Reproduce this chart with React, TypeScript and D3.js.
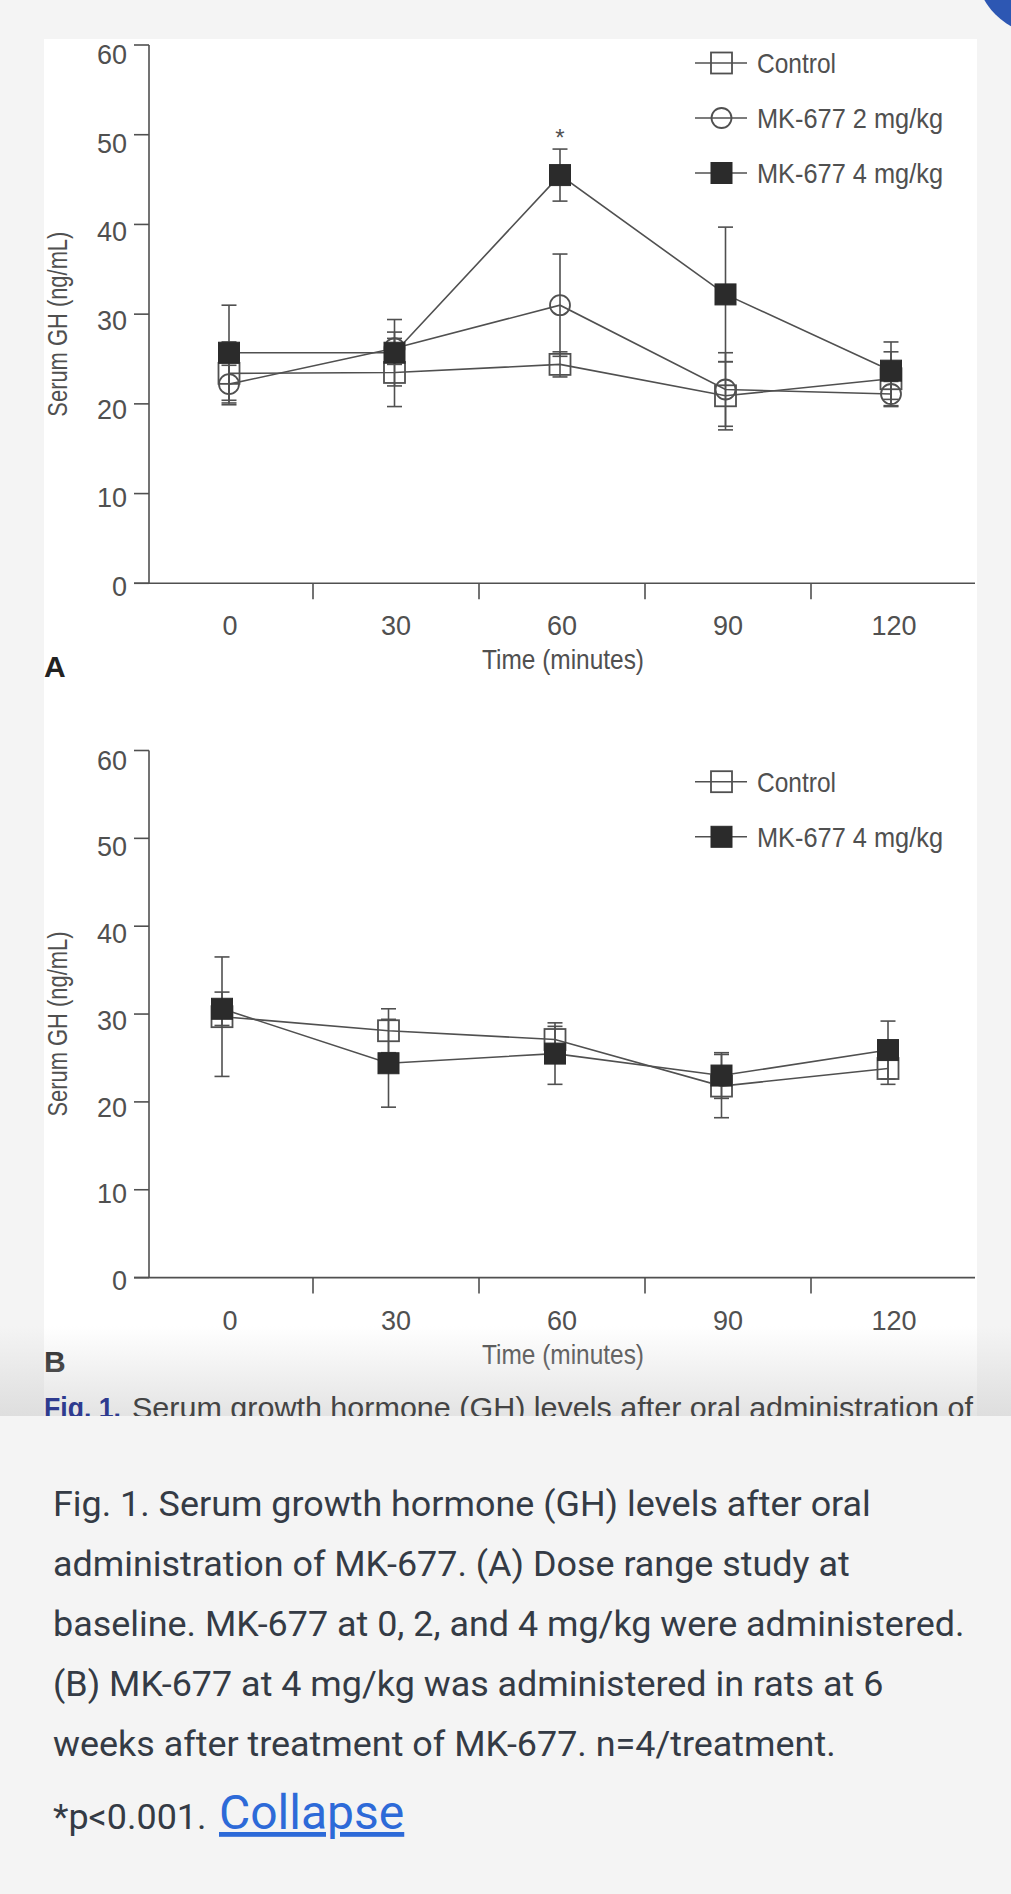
import React from "react";
import * as d3 from "d3";

// time points (minutes) and y ticks
const times = [0, 30, 60, 90, 120];
const yTicks = [0, 10, 20, 30, 40, 50, 60];

// Panel A: dose range study (mean, SEM)
const controlA = [23.4, 23.5, 24.4, 20.9, 22.8];
const controlAErr = [3.5, 3.8, 1.4, 3.8, 3.0];
const mk2A = [22.2, 26.2, 31.0, 21.6, 21.1];
const mk2AErr = [2.1, 1.8, 5.7, 4.1, 1.4];
const mk4A = [25.7, 25.7, 45.5, 32.2, 23.7];
const mk4AErr = [5.3, 3.7, 2.9, 7.5, 3.2];

// Panel B: 6 weeks after treatment
const controlB = [29.7, 28.1, 27.1, 21.8, 23.8];
const controlBErr = [6.8, 2.5, 1.5, 3.6, 1.8];
const mk4B = [30.6, 24.4, 25.5, 23.0, 25.9];
const mk4BErr = [1.9, 5.0, 3.5, 2.6, 3.3];

const captionLines = [
  "Fig. 1. Serum growth hormone (GH) levels after oral",
  "administration of MK-677. (A) Dose range study at",
  "baseline. MK-677 at 0, 2, and 4 mg/kg were administered.",
  "(B) MK-677 at 4 mg/kg was administered in rats at 6",
  "weeks after treatment of MK-677. n=4/treatment.",
];

const CHART_FONT = "'Liberation Sans', Arial, sans-serif";
const CAPTION_FONT = "Roboto, 'Noto Sans', sans-serif";
const INK = "#505050";
const DARK = "#2b2b2b";

type Kind = "open" | "circle" | "filled";
interface Series {
  label: string;
  values: number[];
  errors: number[];
  kind: Kind;
  labelWidth: number;
}

const seriesA: Series[] = [
  { label: "Control", values: controlA, errors: controlAErr, kind: "open", labelWidth: 79 },
  { label: "MK-677 2 mg/kg", values: mk2A, errors: mk2AErr, kind: "circle", labelWidth: 186 },
  { label: "MK-677 4 mg/kg", values: mk4A, errors: mk4AErr, kind: "filled", labelWidth: 186 },
];

const seriesB: Series[] = [
  { label: "Control", values: controlB, errors: controlBErr, kind: "open", labelWidth: 79 },
  { label: "MK-677 4 mg/kg", values: mk4B, errors: mk4BErr, kind: "filled", labelWidth: 186 },
];

const Marker = ({ kind, cx, cy }: { kind: Kind; cx: number; cy: number }) => {
  if (kind === "circle") {
    return <circle cx={cx} cy={cy} r={10} fill="none" stroke={INK} strokeWidth={1.8} />;
  }
  if (kind === "open") {
    return (
      <rect x={cx - 10.5} y={cy - 10.5} width={21} height={21} fill="none" stroke={INK} strokeWidth={1.8} />
    );
  }
  return <rect x={cx - 10.5} y={cy - 10.5} width={21} height={21} fill={DARK} stroke={DARK} strokeWidth={1} />;
};

interface PanelProps {
  top: number;
  zero: number;
  xRange: [number, number];
  series: Series[];
  legendRows: number[];
  letter: string;
  star?: number;
}

const Panel = ({ top, zero, xRange, series, legendRows, letter, star }: PanelProps) => {
  const y = d3.scaleLinear().domain([0, 60]).range([zero, top]);
  const x = d3.scalePoint<number>().domain(times).range(xRange);
  const band = d3.scaleBand<number>().domain(times).range([147, 977]);
  // tick labels sit a little off the band centres in the original
  const xLabel = d3.scalePoint<number>().domain(times).range([226, 890]).padding(0);
  const axisX = 149;

  const line = d3
    .line<number>()
    .x((_, i) => x(times[i]) as number)
    .y((d) => y(d));

  const yLabelMid = (zero + top) / 2;

  return (
    <g fontFamily={CHART_FONT}>
      {/* y axis */}
      <line x1={axisX} x2={axisX} y1={top} y2={zero} stroke={INK} strokeWidth={1.6} />
      {yTicks.map((t) => (
        <g key={t}>
          <line x1={134} x2={axisX} y1={y(t)} y2={y(t)} stroke={INK} strokeWidth={1.6} />
          <text
            x={127}
            y={y(t) + 12.5 + (t / 60) * 6.5}
            textAnchor="end"
            fontSize={27}
            fill={INK}
          >
            {t}
          </text>
        </g>
      ))}

      {/* x axis */}
      <line x1={134} x2={975} y1={zero} y2={zero} stroke={INK} strokeWidth={1.6} />
      {times.slice(1).map((t) => (
        <line
          key={t}
          x1={band(t)}
          x2={band(t)}
          y1={zero}
          y2={zero + 16}
          stroke={INK}
          strokeWidth={1.6}
        />
      ))}
      {times.map((t) => (
        <text
          key={t}
          x={((band(t) as number) + band.bandwidth() / 2 + (xLabel(t) as number)) / 2 + 2}
          y={zero + 52}
          textAnchor="middle"
          fontSize={27}
          fill={INK}
        >
          {t}
        </text>
      ))}
      <text
        x={563}
        y={zero + 86}
        textAnchor="middle"
        fontSize={28}
        fill={INK}
        textLength={162}
        lengthAdjust="spacingAndGlyphs"
      >
        Time (minutes)
      </text>
      <text
        transform={`translate(67, ${yLabelMid + 10}) rotate(-90)`}
        textAnchor="middle"
        fontSize={28}
        fill={INK}
        textLength={185}
        lengthAdjust="spacingAndGlyphs"
      >
        Serum GH (ng/mL)
      </text>
      <text x={44} y={zero + 94} fontSize={30} fontWeight="bold" fill="#222">
        {letter}
      </text>

      {/* series */}
      {series.map((s) => (
        <g key={s.label}>
          {s.values.map((v, i) => {
            const cx = x(times[i]) as number;
            const lo = y(v - s.errors[i]);
            const hi = y(v + s.errors[i]);
            return (
              <g key={i} stroke={INK} strokeWidth={1.6}>
                <line x1={cx} x2={cx} y1={lo} y2={hi} />
                <line x1={cx - 7.5} x2={cx + 7.5} y1={lo} y2={lo} />
                <line x1={cx - 7.5} x2={cx + 7.5} y1={hi} y2={hi} />
              </g>
            );
          })}
          <path d={line(s.values) ?? ""} fill="none" stroke={INK} strokeWidth={1.6} />
          {s.values.map((v, i) => (
            <Marker key={i} kind={s.kind} cx={x(times[i]) as number} cy={y(v)} />
          ))}
        </g>
      ))}

      {star !== undefined && (
        <text
          x={x(times[star])}
          y={y(series[series.length - 1].values[star] + series[series.length - 1].errors[star]) - 3}
          textAnchor="middle"
          fontSize={24}
          fill={INK}
        >
          *
        </text>
      )}

      {/* legend */}
      {series.map((s, i) => (
        <g key={s.label}>
          <line x1={695} x2={747} y1={legendRows[i]} y2={legendRows[i]} stroke={INK} strokeWidth={1.6} />
          <Marker kind={s.kind} cx={721.5} cy={legendRows[i]} />
          <text
            x={757}
            y={legendRows[i] + 10}
            fontSize={28}
            fill={INK}
            textLength={s.labelWidth}
            lengthAdjust="spacingAndGlyphs"
          >
            {s.label}
          </text>
        </g>
      ))}
    </g>
  );
};

const App = () => {
  const W = 1011;
  const H = 1894;
  return (
    <svg
      width={W}
      height={H}
      style={{ position: "absolute", left: 0, top: 0, display: "block" }}
    >
      <defs>
        <linearGradient id="fade" x1="0" y1="0" x2="0" y2="1">
          <stop offset="0" stopColor="#c8c8c8" stopOpacity={0} />
          <stop offset="1" stopColor="#c8c8c8" stopOpacity={0.5} />
        </linearGradient>
        <clipPath id="cut">
          <rect x={0} y={0} width={W} height={1416} />
        </clipPath>
      </defs>
      <rect width={W} height={H} fill="#f4f4f4" />
      <rect x={44} y={39} width={933} height={1377} fill="#fff" />

      <Panel
        top={45}
        zero={583.3}
        xRange={[229, 891]}
        series={seriesA}
        legendRows={[63, 118, 173]}
        letter="A"
        star={2}
      />
      <Panel
        top={750.5}
        zero={1277.6}
        xRange={[222, 888]}
        series={seriesB}
        legendRows={[781.7, 836.8]}
        letter="B"
      />

      <rect x={0} y={1326} width={W} height={90} fill="url(#fade)" />
      <g clipPath="url(#cut)" fontFamily={CHART_FONT} fontSize={29}>
        <text
          x={44}
          y={1418}
          fill="#2e3b8f"
          fontWeight="bold"
          textLength={77}
          lengthAdjust="spacingAndGlyphs"
        >
          Fig. 1.
        </text>
        <text x={132} y={1418} fill="#444" textLength={841} lengthAdjust="spacingAndGlyphs">
          Serum growth hormone (GH) levels after oral administration of
        </text>
      </g>

      <circle cx={1045} cy={-35} r={70} fill="#2d57b3" />

      <g fontFamily={CAPTION_FONT} fontSize={35.9} fill="#343b45">
        {captionLines.map((l, i) => (
          <text key={i} x={53} y={1516 + i * 60}>
            {l}
          </text>
        ))}
        <text x={53} y={1829}>
          *p&lt;0.001.
        </text>
        <text x={219} y={1829} fontSize={48} fill="#2d6ad8" textDecoration="underline">
          Collapse
        </text>
      </g>
    </svg>
  );
};

export default App;
